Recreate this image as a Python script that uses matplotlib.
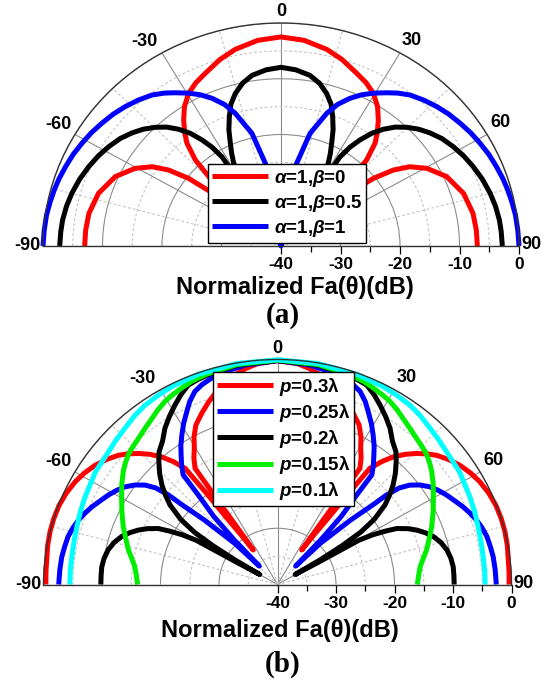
import numpy as np
import matplotlib
matplotlib.use('Agg')
from matplotlib import pyplot as plt

plt.rcParams['font.family'] = ['Liberation Sans', 'DejaVu Sans']
plt.rcParams['font.weight'] = 'bold'
plt.rcParams['mathtext.fontset'] = 'custom'
plt.rcParams['mathtext.it'] = 'Liberation Sans:italic:bold'
plt.rcParams['mathtext.rm'] = 'Liberation Sans:bold'
plt.rcParams['mathtext.bf'] = 'Liberation Sans:bold'

# ---- panel (a): right half of each pattern (theta in deg, level in dB) ----
th_a_red = [0, 6, 12.3, 17, 22.3, 26, 29.5, 33, 35.9, 38.5, 40.6, 43, 46, 48,
            50, 52, 54.2, 56.7, 60.4, 65.9, 72.9, 79.7, 85, 90]
db_a_red = [-2.5, -2.9, -3.9, -5.0, -6.5, -7.4, -8.5, -10.2, -12.1, -14.0, -15.7, -18.9, -26, -36,
            -26, -20.3, -16.7, -14.1, -11.8, -9.5, -7.9, -7.2, -7.05, -7.0]

th_a_black = [0, 4.5, 9, 12.5, 15.7, 18.3, 20.5, 22.8, 24.8, 26.6, 28.2, 30, 31.8, 33.2,
              34.9, 37, 39.4, 42, 44.8, 47.8, 50.9, 54.5, 58.4, 62.3, 66.2, 70.5, 74.9,
              78.8, 82.8, 86, 90]
db_a_black = [-7.95, -8.3, -9.0, -10.1, -11.6, -13.2, -15.2, -17.4, -19.7, -21.5, -23.2, -32, -21.2, -18.8,
              -16.8, -14.7, -12.9, -11.3, -10.0, -8.8, -7.8, -6.8, -6.0, -5.3, -4.7, -4.1, -3.6,
              -3.25, -3.0, -2.9, -2.8]

th_a_blue = [0, 3, 6, 10.1, 13.6, 17.9, 20.5, 23.6, 26.5, 29.5, 32.8, 35.5, 38.7, 42.5,
             46.3, 50, 53.8, 57.5, 61.2, 64.8, 68.5, 72, 75, 78.5, 82, 86, 90]
db_a_blue = [-40, -34, -29.5, -24.9, -19.2, -15.0, -12.9, -11.1, -9.7, -8.5, -7.3, -6.3, -5.3, -4.5,
             -3.8, -3.2, -2.7, -2.2, -1.8, -1.4, -1.1, -0.8, -0.6, -0.4, -0.2, -0.1, 0]

labels_a = [r'$\alpha$=1,$\beta$=0', r'$\alpha$=1,$\beta$=0.5', r'$\alpha$=1,$\beta$=1']

# ---- panel (b) ----
th_b_red = [0, 5, 8, 11, 14, 17, 20, 23, 26.2, 28.5, 30.4, 32.5, 34.3, 34.3, 34.3, 34.1, 34,
            35.3, 36.3, 36.8, 37.4, 39.2, 41.1, 43.3, 45.6, 47.7, 49.8, 52.7, 55.8, 59,
            62.1, 65.8, 69.4, 73, 76.4, 80, 83.3, 86.5, 90]
db_b_red = [-0.2, -0.6, -1.2, -2.0, -3.0, -4.2, -5.5, -6.9, -8.4, -10.1, -11.9, -13.4, -15.0, -20, -24, -29, -32.6,
            -29, -25, -20, -14.0, -11.8, -9.9, -8.2, -6.7, -5.5, -4.4, -3.3, -2.3, -1.5,
            -0.9, -0.4, -0.1, 0, 0, -0.1, -0.3, -0.35, -0.4]

th_b_blue = [0, 8, 13, 17, 20, 22.4, 24.8, 26.8, 29.3, 31.6, 33.8, 35.6, 37.7, 39.6, 40.4, 42, 43, 43.5,
             45, 47.5, 49, 49.5, 50.5, 52, 54, 56.3, 58.7, 61.2, 64, 66.5, 69, 71.4, 74, 76.6,
             79.5, 82.4, 86, 90]
db_b_blue = [-0.2, -0.6, -1.1, -1.6, -2.2, -2.9, -4.2, -5.6, -7.2, -8.8, -10.3, -11.7, -13.2, -14.7, -19.1, -23.7, -29.1, -35.5,
             -29.7, -23, -18.5, -15.5, -13, -11.3, -9.9, -8.7, -7.8, -7.0, -6.2, -5.4, -4.7, -4.1, -3.6, -3.2,
             -3.0, -2.8, -2.7, -2.6]

th_b_black = [0, 10, 17, 20.5, 23.3, 26, 28.8, 31.8, 34.7, 37.6, 40.6, 42.9, 45.6, 48.2, 50.3, 52.4,
              55, 56.8, 58, 59, 59.5, 60.5, 60.5, 60.5, 61.5, 62.8, 64, 66, 67.9, 70, 72.3, 75,
              78, 81, 84, 87, 90]
db_b_black = [-0.2, -0.4, -0.8, -1.1, -1.4, -2.4, -3.6, -4.9, -6.2, -7.8, -8.9, -10.2, -11.8, -13.5, -15.1, -16.8,
              -19.8, -23, -27, -31.5, -36.5, -32, -27.5, -24, -21.5, -19.2, -17.3, -15.6, -14.3, -13.1, -12.0, -11.1,
              -10.4, -10.0, -9.8, -9.8, -9.8]

th_b_green = [0, 10, 18, 22, 25, 28, 30.6, 33.3, 36, 39.3, 42.5, 45.3, 47.9, 50.3, 52.5, 56, 59.6,
              64, 68.7, 72.5, 76.5, 80, 82.6, 86, 90]
db_b_green = [-0.1, -0.3, -0.7, -1.0, -1.4, -1.8, -2.2, -2.8, -3.5, -4.2, -4.8, -5.2, -5.6, -6.2, -6.8, -7.9, -9.1,
              -10.4, -11.7, -12.8, -13.8, -14.8, -15.4, -15.8, -16.1]

th_b_cyan = [0, 10, 20, 27, 31, 35.4, 39, 43.2, 47, 50.8, 57.3, 64.6, 69, 73.3, 78, 82, 86, 90]
db_b_cyan = [-0.05, -0.1, -0.25, -0.45, -0.65, -0.9, -1.3, -1.9, -2.3, -2.7, -3.0, -3.6, -3.9, -4.2, -4.4, -4.5, -4.5, -4.5]

labels_b = [r'$p$=0.3λ', r'$p$=0.25λ', r'$p$=0.2λ', r'$p$=0.15λ', r'$p$=0.1λ']

theta_ticks = [-90, -60, -30, 0, 30, 60, 90]
r_ticks = [-40, -30, -20, -10, 0]

W, H = 547, 681


def mirror(th, db):
    # the patterns are symmetric about broadside
    th = np.asarray(th, float)
    db = np.asarray(db, float)
    return np.deg2rad(np.concatenate([-th[::-1], th])), np.concatenate([db[::-1], db])


def half_polar_axes(cx, cy, rx, ry):
    # wedge bbox is padded to a square, so the half disc sits in the middle half
    rect = [(cx - rx) / W, (H - cy - ry / 2) / H, 2 * rx / W, 2 * ry / H]
    ax = fig.add_axes(rect, projection='polar')
    ax.set_theta_zero_location('N')
    ax.set_theta_direction(-1)
    ax.set_thetamin(-90)
    ax.set_thetamax(90)
    ax.set_rlim(-40, 0)
    ax.set_aspect('auto')

    ax.set_xticks(np.deg2rad(theta_ticks))
    ax.set_xticks(np.deg2rad([-75, -45, -15, 15, 45, 75]), minor=True)
    ax.set_xticklabels([])
    ax.set_yticks(r_ticks)
    ax.set_yticks([-35, -25, -15, -5], minor=True)
    ax.set_yticklabels([str(v) for v in r_ticks])

    ax.grid(which='major', color='#8c8c8c', lw=0.8, ls='-')
    ax.grid(which='minor', color='#c4c4c4', lw=0.8, ls=(0, (2.5, 2)))
    ax.tick_params(axis='x', which='major', direction='in', length=6, width=0.9)
    ax.tick_params(axis='x', which='minor', direction='in', length=4, width=0.9)
    ax.tick_params(axis='y', which='both', left=False, labelleft=False,
                   right=True, labelright=True, direction='out', width=0.9,
                   labelsize=12.5)
    ax.tick_params(axis='y', which='major', length=6, pad=2)
    ax.tick_params(axis='y', which='minor', length=4)
    for sp in ax.spines.values():
        sp.set_color('#333333')
        sp.set_linewidth(1.0)

    offs = {-90: (-1.5, 0, 'right'), -60: (-2.5, 7.5, 'right'), -30: (-3.5, 8, 'right'),
            0: (0, 8, 'center'), 30: (1.5, 9, 'left'), 60: (2, 8.5, 'left'), 90: (1.5, 1, 'left')}
    for t in theta_ticks:
        dx, dy, ha = offs[t]
        ax.annotate(str(t), xy=(np.deg2rad(t), 0), xytext=(dx, dy),
                    textcoords='offset points', ha=ha, va='center',
                    fontsize=13, fontweight='bold', annotation_clip=False)
    return ax


def draw(ax, series, colors, labels):
    for (th, db), c, lab in zip(series, colors, labels):
        t, r = mirror(th, db)
        ax.plot(t, r, color=c, lw=3.6, label=lab, clip_on=False,
                solid_capstyle='butt', solid_joinstyle='round')


def legend(ax, x0, y0):
    ax.legend(loc='upper left', bbox_to_anchor=(x0 / W, (H - y0) / H),
              bbox_transform=fig.transFigure, fontsize=13.5, handlelength=3.0,
              handletextpad=0.3, borderpad=0.2, labelspacing=0.22, borderaxespad=0,
              fancybox=False, framealpha=1, edgecolor='black')


fig = plt.figure(figsize=(W / 100, H / 100), dpi=100)

ax1 = half_polar_axes(281, 246, 238, 223)
draw(ax1, [(th_a_red, db_a_red), (th_a_black, db_a_black), (th_a_blue, db_a_blue)],
     ['#ff0000', '#000000', '#0000ff'], labels_a)
legend(ax1, 208, 164)

ax2 = half_polar_axes(277.5, 584.5, 234, 225)
draw(ax2, [(th_b_red, db_b_red), (th_b_blue, db_b_blue), (th_b_black, db_b_black),
           (th_b_green, db_b_green), (th_b_cyan, db_b_cyan)],
     ['#ff0000', '#0000ff', '#000000', '#00ee00', '#00ffff'], labels_b)
legend(ax2, 213, 372)

fig.text(295 / W, 1 - 288 / H, 'Normalized Fa(θ)(dB)', ha='center', va='center',
         fontsize=17, fontweight='bold')
fig.text(280 / W, 1 - 630 / H, 'Normalized Fa(θ)(dB)', ha='center', va='center',
         fontsize=17, fontweight='bold')
fig.text(283 / W, 1 - 315 / H, '(a)', ha='center', va='center', fontsize=21,
         fontweight='bold', family='Liberation Serif')
fig.text(283 / W, 1 - 664 / H, '(b)', ha='center', va='center', fontsize=21,
         fontweight='bold', family='Liberation Serif')

fig.savefig('out.png', dpi=100)
